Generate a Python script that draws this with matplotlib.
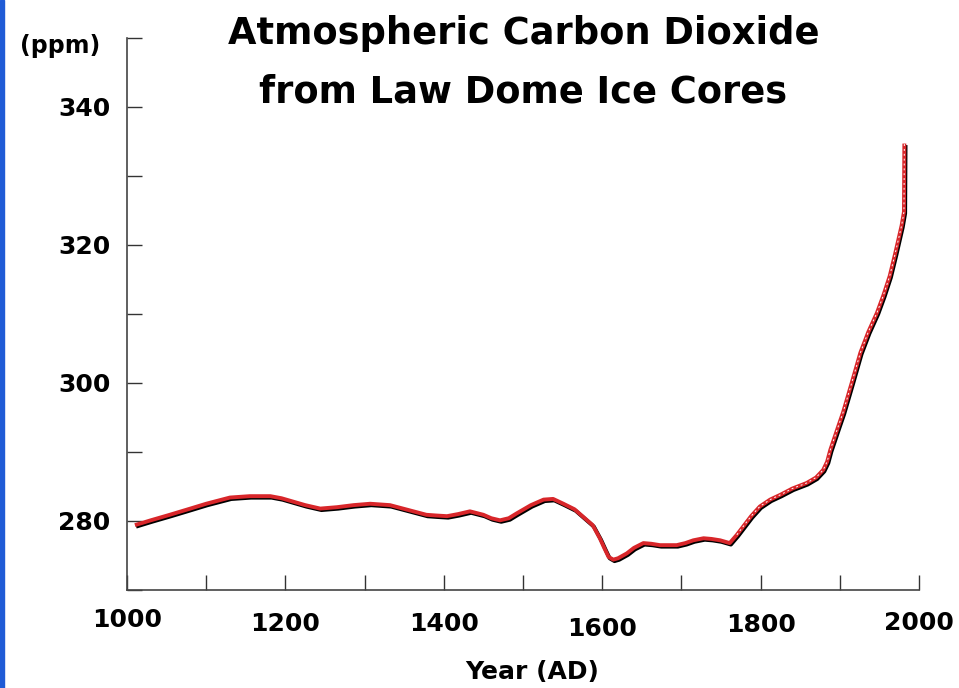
import numpy as np
import matplotlib
matplotlib.use("Agg")
import matplotlib.pyplot as plt
import matplotlib.transforms as mtransforms
from matplotlib.patches import Rectangle

# CO2 (year AD, ppm)
years = [1010, 1030, 1054, 1080, 1100, 1130, 1155, 1181, 1195, 1210, 1225,
         1244, 1265, 1286, 1307, 1332, 1355, 1378, 1390, 1404, 1418, 1433,
         1450, 1460, 1471, 1482, 1492, 1510, 1526, 1538, 1551, 1565, 1576,
         1588, 1597, 1603, 1608, 1614, 1620, 1631, 1640, 1652, 1662, 1673,
         1694, 1705, 1715, 1728, 1738, 1749, 1755, 1761, 1770, 1778, 1788,
         1799, 1812, 1825, 1840, 1858, 1870, 1879, 1884, 1888, 1893, 1898,
         1904, 1915, 1926, 1936, 1947, 1955, 1963, 1970, 1978, 1981, 1981.5]
co2 = [279.4, 280.1, 280.9, 281.8, 282.5, 283.4, 283.6, 283.6, 283.3, 282.8,
       282.3, 281.8, 282.0, 282.3, 282.5, 282.3, 281.6, 280.9, 280.8, 280.7,
       281.0, 281.4, 280.9, 280.4, 280.1, 280.4, 281.1, 282.3, 283.1, 283.2,
       282.5, 281.7, 280.6, 279.4, 277.5, 276.0, 274.8, 274.4, 274.6, 275.3,
       276.1, 276.8, 276.7, 276.5, 276.5, 276.8, 277.2, 277.5, 277.4, 277.2,
       277.0, 276.8, 278.0, 279.2, 280.7, 282.1, 283.1, 283.8, 284.7, 285.5,
       286.3, 287.4, 288.6, 290.3, 292.0, 293.7, 295.7, 300.0, 304.4, 307.4,
       310.2, 312.7, 315.5, 318.8, 322.8, 324.8, 334.7]

xticks = list(range(1000, 2001, 100))
xlabels = ["1000", "1200", "1400", "1600", "1800", "2000"]
yticks = list(range(270, 351, 10))
ylabels = ["", "280", "", "300", "", "320", "", "340", ""]

# label drops below the axis (pixels), the original print is a bit uneven
xlabel_drop = [30, 34, 34, 39, 35, 33]

FONT = "DejaVu Sans"

fig = plt.figure(figsize=(9.59, 6.88), dpi=100)
ax = fig.add_axes([127/959, 98/688, 792/959, 552/688])

ax.set_xlim(1000, 2000)
ax.set_ylim(270, 350)

# black shadow under the red curve
shadow = ax.transData + mtransforms.ScaledTranslation(1.2/100, -1.5/100, fig.dpi_scale_trans)
ax.plot(years, co2, color="black", lw=2.8, transform=shadow,
        solid_capstyle="butt", solid_joinstyle="round")
ax.plot(years, co2, color="#d8262a", lw=2.8, solid_capstyle="butt",
        solid_joinstyle="round")
mask = np.array(years) >= 1770
ax.plot(np.array(years)[mask], np.array(co2)[mask], color="white", lw=0.7,
        dashes=(2, 3))

for s in ["top", "right"]:
    ax.spines[s].set_visible(False)
for s in ["left", "bottom"]:
    ax.spines[s].set_color("#444444")
    ax.spines[s].set_linewidth(1.2)

ax.set_xticks(xticks)
ax.set_xticklabels([])
ax.set_yticks(yticks)
ax.set_yticklabels(ylabels, fontsize=18, fontweight="bold", family=FONT)
ax.tick_params(axis="both", direction="in", length=10.5, width=1.0,
               color="#333333")
ax.tick_params(axis="y", pad=12)

for lab, drop in zip(xlabels, xlabel_drop):
    tr = ax.get_xaxis_transform() + mtransforms.ScaledTranslation(
        0, -drop/100, fig.dpi_scale_trans)
    ax.text(int(lab), 0, lab, transform=tr, ha="center", va="center",
            fontsize=18, fontweight="bold", family=FONT)

fig.text(532/959, 1 - 672/688, "Year (AD)", ha="center", va="center",
         fontsize=18, fontweight="bold", family=FONT)
fig.text(60/959, 1 - 46/688, "(ppm)", ha="center", va="center",
         fontsize=17, fontweight="bold", family=FONT)
fig.text(524/959, 1 - 33/688, "Atmospheric Carbon Dioxide", ha="center",
         va="center", fontsize=26.5, fontweight="bold", family=FONT)
fig.text(523/959, 1 - 92/688, "from Law Dome Ice Cores", ha="center",
         va="center", fontsize=26.5, fontweight="bold", family=FONT)

# blue frame strip on the left edge
fig.patches.append(Rectangle((0, 0), 4/959, 1, transform=fig.transFigure,
                             color="#1f5bd6", zorder=10))

fig.savefig("out.png", dpi=100)
